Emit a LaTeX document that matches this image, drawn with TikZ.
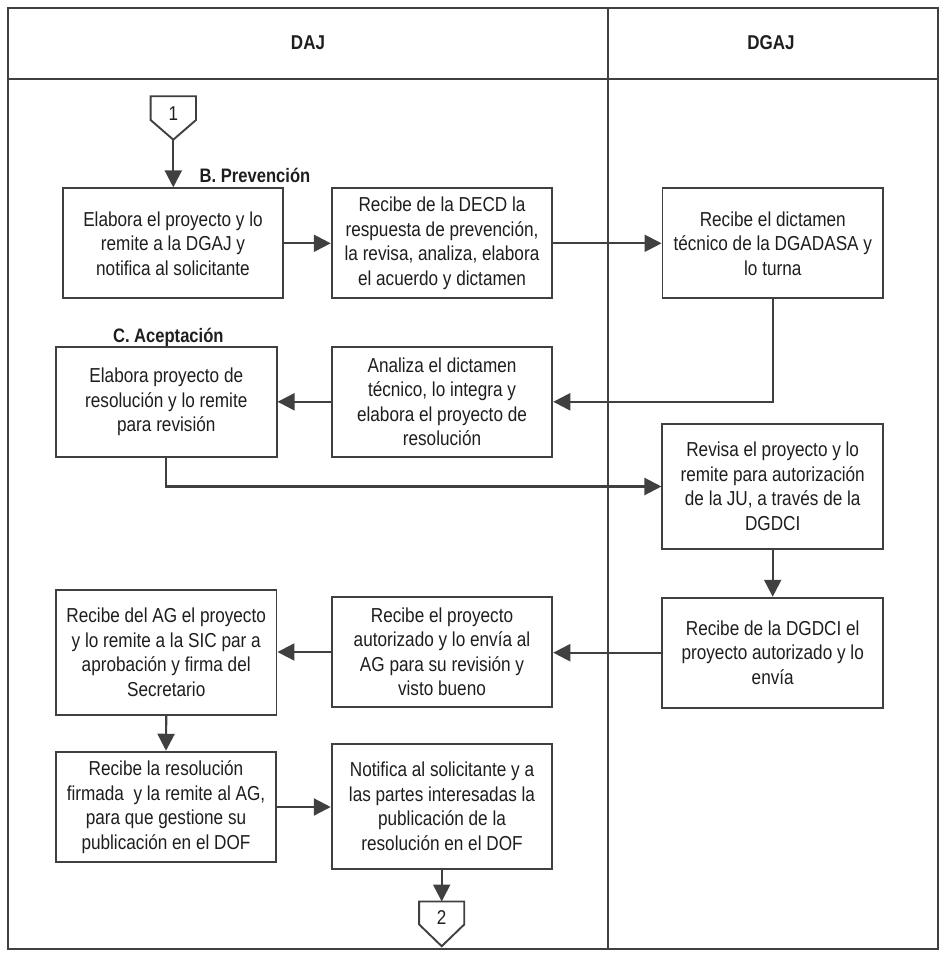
\documentclass[tikz,border=0pt]{standalone}
\usepackage{fontspec}
\setmainfont{Liberation Sans}[FakeStretch=0.85]
\usetikzlibrary{arrows.meta,calc}
\definecolor{ink}{HTML}{404040}
\definecolor{txt}{HTML}{1E1E1E}

\begin{document}
\begin{tikzpicture}[x=1pt,y=-1pt,
  frame/.style={draw=ink,line width=1.9pt},
  stepbox/.style={draw=ink,line width=1.9pt,fill=white,align=center,inner sep=2pt,
    text=txt,font=\fontsize{20.2}{24.5}\selectfont,minimum width=220.6pt,minimum height=110pt},
  lanehead/.style={text=txt,font=\fontsize{20}{22}\selectfont\bfseries},
  phase/.style={text=txt,font=\fontsize{19.5}{22}\selectfont\bfseries,inner sep=1pt},
  pagebox/.style={draw=none,inner sep=0pt,minimum width=45pt,minimum height=43pt},
  pageline/.style={draw=ink,line width=1.9pt,fill=white,line join=miter},
  digit/.style={text=txt,font=\fontsize{20}{20}\selectfont,inner sep=0pt},
  flow/.style={draw=ink,line width=2.2pt,-{Triangle[length=17pt,width=17pt]}}
]
\useasboundingbox (0,0) rectangle (942,955);

% swimlane frame
\draw[frame] (8,8) rectangle (938,949);
\draw[frame] (8,79) -- (938,79);
\draw[frame] (608,8) -- (608,949);
\node[lanehead] (hdaj) at (308,43) {DAJ};
\node[lanehead] (hdgaj) at (771,43) {DGAJ};

% off-page connector 1
\node[pagebox] (p1) at (173.3,118) {};
\draw[pageline] (p1.north west) -- (p1.north east) -- ([yshift=-2pt]p1.east)
  -- (p1.south) -- ([yshift=-2pt]p1.west) -- cycle;
\node[digit] (d1) at ([yshift=4pt]p1.center) {1};

% phase labels
\node[phase] (lblB) at (255,175) {B. Prevención};
\node[phase] (lblC) at (168.3,337) {C. Aceptación};

% process steps
\node[stepbox] (b1) at (173,243.3) {Elabora el proyecto y lo\\remite a la DGAJ y\\notifica al solicitante};
\node[stepbox] (b2) at (442,243.3) {Recibe de la DECD la\\respuesta de prevención,\\la revisa, analiza, elabora\\el acuerdo y dictamen};
\node[stepbox] (b3) at (772.8,243.3) {Recibe el dictamen\\técnico de la DGADASA y\\lo turna};
\node[stepbox] (b4) at (166.3,401.8) {Elabora proyecto de\\resolución y lo remite\\para revisión};
\node[stepbox] (b5) at (442,401.8) {Analiza el dictamen\\técnico, lo integra y\\elabora el proyecto de\\resolución};
\node[stepbox,minimum height=125pt] (b6) at (772.7,486.5) {Revisa el proyecto y lo\\remite para autorización\\de la JU, a través de la\\DGDCI};
\node[stepbox] (b7) at (772.7,652.7) {Recibe de la DGDCI el\\proyecto autorizado y lo\\envía};
\node[stepbox,minimum height=109.4pt] (b8) at (442,652) {Recibe el proyecto\\autorizado y lo envía al\\AG para su revisión y\\visto bueno};
\node[stepbox,minimum height=125pt] (b9) at (166.2,652.5) {Recibe del AG el proyecto\\y lo remite a la SIC par a\\aprobación y firma del\\Secretario};
\node[stepbox,minimum height=110.6pt] (b10) at (166,807) {Recibe la resolución\\firmada~ y la remite al AG,\\para que gestione su\\publicación en el DOF};
\node[stepbox,minimum height=125pt] (b11) at (442,806.5) {Notifica al solicitante y a\\las partes interesadas la\\publicación de la\\resolución en el DOF};

% off-page connector 2
\node[pagebox,minimum width=44.7pt,minimum height=44.3pt] (p2) at (441.7,923.85) {};
\draw[pageline] (p2.north west) -- (p2.north east) -- ([yshift=-0.6pt]p2.east)
  -- (p2.south) -- ([yshift=-0.6pt]p2.west) -- cycle;
\node[digit] (d2) at ([yshift=6pt]p2.center) {2};

% flow
\draw[flow] (p1.south) -- (p1.south |- b1.north);
\draw[flow] (b1.east) -- (b2.west);
\draw[flow] (b2.east) -- (b3.west);
\draw[flow] (b3.south) |- (b5.east);
\draw[flow] (b5.west) -- (b4.east);
\draw[flow] (b4.south) |- (b6.west);
\draw[flow] (b6.south) -- (b7.north);
\draw[flow] (b7.west) -- (b7.west -| b8.east);
\draw[flow] (b8.west) -- (b8.west -| b9.east);
\draw[flow] (b9.south) -- (b10.north);
\draw[flow] (b10.east) -- (b10.east -| b11.west);
\draw[flow] (b11.south -| p2.north) -- (p2.north);
\end{tikzpicture}
\end{document}
